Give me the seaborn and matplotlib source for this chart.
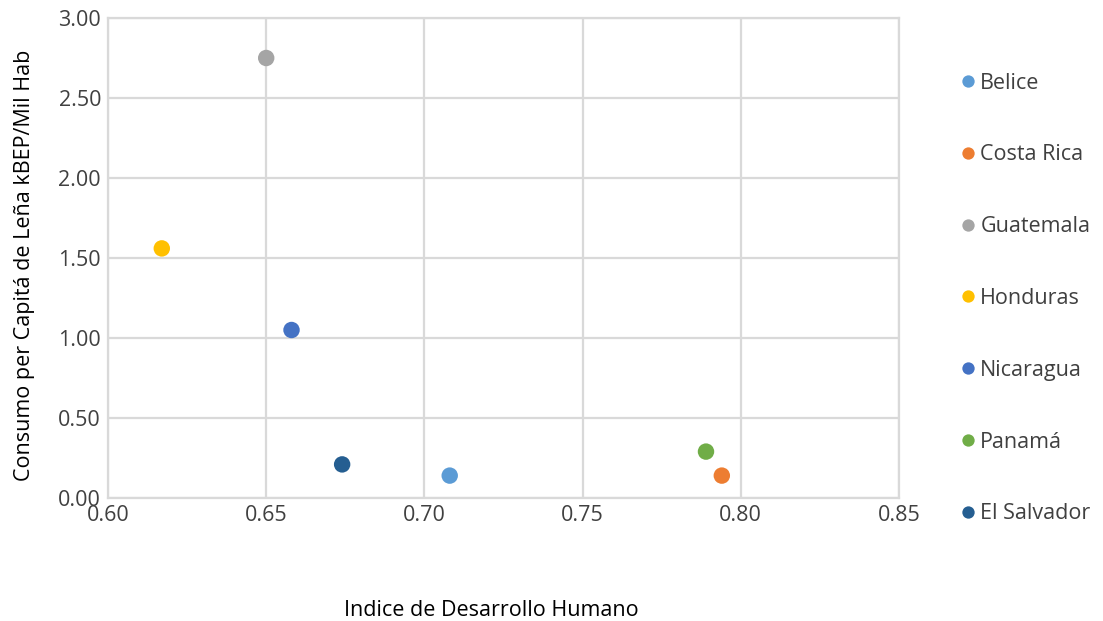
import matplotlib
matplotlib.use("Agg")
import matplotlib.pyplot as plt
import seaborn as sns
import pandas as pd
from matplotlib.ticker import FormatStrFormatter

countries = ["Belice", "Costa Rica", "Guatemala", "Honduras", "Nicaragua", "Panamá", "El Salvador"]
idh = [0.708, 0.794, 0.650, 0.617, 0.658, 0.789, 0.674]
consumo = [0.14, 0.14, 2.75, 1.56, 1.05, 0.29, 0.21]
colors = ["#5B9BD5", "#ED7D31", "#A5A5A5", "#FFC000", "#4472C4", "#70AD47", "#255E91"]

df = pd.DataFrame({"País": countries, "IDH": idh, "Consumo": consumo})

sns.set_theme(style="white")
plt.rcParams["font.family"] = ["Open Sans", "DejaVu Sans"]

fig = plt.figure(figsize=(11.03, 6.21), dpi=100)
ax = fig.add_axes([108/1103, 1-498/621, (899-108)/1103, (498-18)/621])

sns.scatterplot(data=df, x="IDH", y="Consumo", hue="País", hue_order=countries,
                palette=dict(zip(countries, colors)), s=140, edgecolor="none",
                ax=ax, zorder=3, clip_on=False)

ax.set_xlim(0.60, 0.85)
ax.set_ylim(0, 3.0)
ax.set_xticks([0.60, 0.65, 0.70, 0.75, 0.80, 0.85])
ax.set_yticks([0, 0.5, 1.0, 1.5, 2.0, 2.5, 3.0])
ax.xaxis.set_major_formatter(FormatStrFormatter("%.2f"))
ax.yaxis.set_major_formatter(FormatStrFormatter("%.2f"))
ax.grid(True, color="#D9D9D9", linewidth=1.6)
ax.set_axisbelow(True)
for sp in ax.spines.values():
    sp.set_color("#D9D9D9")
    sp.set_linewidth(1.6)
ax.tick_params(axis="both", length=0, labelsize=15.5, colors="#404040", pad=5)

ax.set_xlabel("Indice de Desarrollo Humano", fontsize=15.5, color="#000000", labelpad=0)
ax.xaxis.set_label_coords(0.485, -0.212)
ax.set_ylabel("Consumo per Capitá de Leña kBEP/Mil Hab", fontsize=15.5, color="#000000")
ax.yaxis.set_label_coords(-0.092, 0.485)

leg = ax.legend(loc="upper left", bbox_to_anchor=(948/1103, 1-64/621),
                bbox_transform=fig.transFigure, frameon=False, fontsize=15.5,
                labelspacing=2.36, handletextpad=0.0, markerscale=0.75,
                borderaxespad=0, handlelength=1.1)
for t in leg.get_texts():
    t.set_color("#404040")

fig.savefig("out.png", dpi=100)
